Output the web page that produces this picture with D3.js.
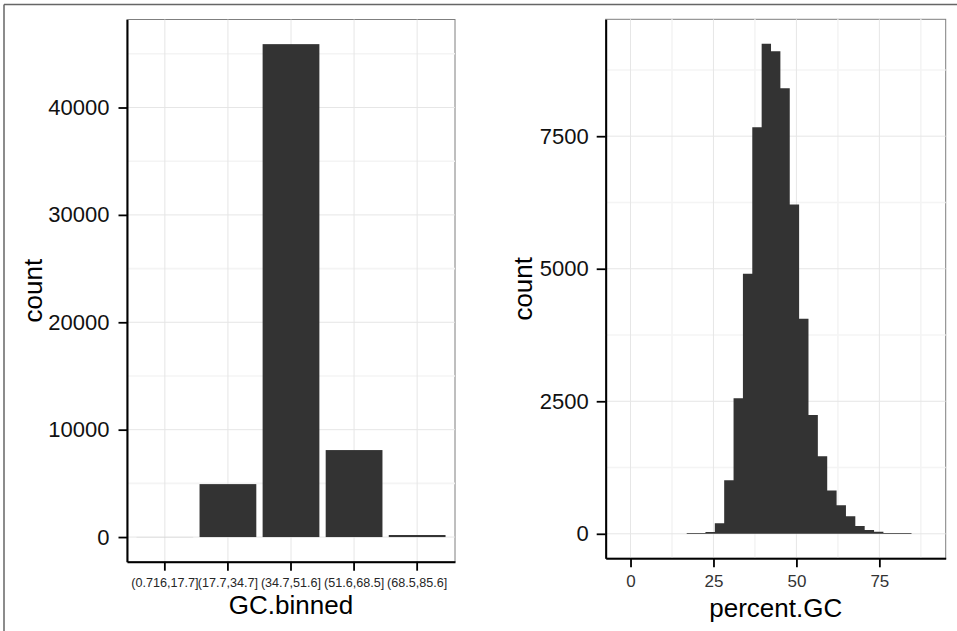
<!DOCTYPE html>
<html>
<head>
<meta charset="utf-8">
<script src="https://cdn.jsdelivr.net/npm/d3@7"></script>
<style>
  html, body { margin: 0; padding: 0; background: #fff; }
  svg { display: block; font-family: "Liberation Sans", Arial, Helvetica, sans-serif; }
</style>
</head>
<body>
<svg id="chart" width="957" height="631"></svg>
<script>
// ---------------- data ----------------
const gcBinnedCategories = ["(0.716,17.7]", "(17.7,34.7]", "(34.7,51.6]", "(51.6,68.5]", "(68.5,85.6]"];
const gcBinnedCounts = [6, 4930, 45900, 8100, 190];
const leftYMajorTicks = [0, 10000, 20000, 30000, 40000];
const leftYMinorTicks = [5000, 15000, 25000, 35000, 45000];

const histBreaks = [-2.823, 0, 2.823, 5.646, 8.469, 11.292, 14.115, 16.938, 19.761, 22.584,
  25.407, 28.23, 31.053, 33.876, 36.699, 39.522, 42.345, 45.168, 47.991, 50.814,
  53.637, 56.46, 59.283, 62.106, 64.929, 67.752, 70.575, 73.398, 76.221, 79.044,
  81.867, 84.69, 87.513, 90.336];
const histCounts = [0, 0, 0, 0, 0, 0, 0, 4, 8, 35,
  200, 1009, 2557, 4904, 7670, 9243, 9104, 8406, 6211, 4055,
  2243, 1462, 815, 538, 330, 146, 70, 40, 15, 5,
  3, 0, 0];
const rightXMajorTicks = [0, 25, 50, 75];
const rightXMinorTicks = [12.5, 37.5, 62.5, 87.5];
const rightYMajorTicks = [0, 2500, 5000, 7500];
const rightYMinorTicks = [1250, 3750, 6250, 8750];

// ---------------- drawing ----------------
const svg = d3.select("#chart");
const BAR = "#333333";
const MAJOR = "#e6e6e6";
const MINOR = "#f4f4f4";

// outer frame (top + left)
svg.append("line").attr("x1", 4).attr("x2", 957).attr("y1", 4.5).attr("y2", 4.5)
  .attr("stroke", "#666").attr("stroke-width", 1.5);
svg.append("line").attr("x1", 4).attr("x2", 4).attr("y1", 4.5).attr("y2", 631)
  .attr("stroke", "#666").attr("stroke-width", 1.5);

function expand(lo, hi) { const d = (hi - lo) * 0.05; return [lo - d, hi + d]; }

function panelFrame(p) {
  svg.append("rect").attr("x", p.x0).attr("y", p.y0)
    .attr("width", p.x1 - p.x0).attr("height", p.y1 - p.y0)
    .attr("fill", "#fff").attr("stroke", "#7f7f7f").attr("stroke-width", 1);
}

function styleAxis(g, fontSize, color) {
  g.select(".domain").attr("stroke", "#000").attr("stroke-width", 2);
  g.selectAll(".tick line").attr("stroke", "#000").attr("stroke-width", 1.8);
  g.selectAll(".tick text").attr("font-size", fontSize).attr("fill", color)
    .attr("font-family", "'Liberation Sans', Arial, sans-serif");
}

// ---------- left panel ----------
{
  const p = { x0: 127, x1: 455, y0: 19.5, y1: 561.7 };
  const x = d3.scaleBand().domain(gcBinnedCategories).range([p.x0, p.x1])
    .paddingInner(0.1).paddingOuter(0.15);
  const y = d3.scaleLinear().domain(expand(0, d3.max(gcBinnedCounts))).range([p.y1, p.y0]);

  panelFrame(p);
  const grid = svg.append("g");
  grid.selectAll(".ymin").data(leftYMinorTicks).join("line")
    .attr("x1", p.x0).attr("x2", p.x1).attr("y1", d => y(d)).attr("y2", d => y(d))
    .attr("stroke", MINOR).attr("stroke-width", 1.6);
  grid.selectAll(".ymaj").data(leftYMajorTicks).join("line")
    .attr("x1", p.x0).attr("x2", p.x1).attr("y1", d => y(d)).attr("y2", d => y(d))
    .attr("stroke", MAJOR).attr("stroke-width", 1);
  grid.selectAll(".xmaj").data(gcBinnedCategories).join("line")
    .attr("x1", d => x(d) + x.bandwidth() / 2).attr("x2", d => x(d) + x.bandwidth() / 2)
    .attr("y1", p.y0).attr("y2", p.y1)
    .attr("stroke", MAJOR).attr("stroke-width", 1);

  svg.append("g").selectAll("rect").data(gcBinnedCategories).join("rect")
    .attr("x", d => x(d)).attr("width", x.bandwidth())
    .attr("y", (d, i) => y(gcBinnedCounts[i]))
    .attr("height", (d, i) => y(0) - y(gcBinnedCounts[i]))
    .attr("fill", BAR);

  const ya = svg.append("g").attr("transform", `translate(${p.x0},0)`)
    .call(d3.axisLeft(y).tickValues(leftYMajorTicks).tickFormat(d3.format("d"))
      .tickSize(8.5).tickSizeOuter(0).tickPadding(9));
  styleAxis(ya, "22px", "#111");
  const xa = svg.append("g").attr("transform", `translate(0,${p.y1})`)
    .call(d3.axisBottom(x).tickSize(9).tickSizeOuter(0).tickPadding(6));
  styleAxis(xa, "12.6px", "#262626");
  xa.selectAll(".tick text").attr("dy", null).attr("y", 25.5);

  svg.append("text").attr("x", (p.x0 + p.x1) / 2).attr("y", 614)
    .attr("text-anchor", "middle").attr("font-size", "26px").attr("fill", "#000")
    .text("GC.binned");
  svg.append("text").attr("transform", `translate(41.5,${(p.y0 + p.y1) / 2}) rotate(-90)`)
    .attr("text-anchor", "middle").attr("font-size", "26px").attr("fill", "#000")
    .text("count");
}

// ---------- right panel ----------
{
  const p = { x0: 605.7, x1: 945.7, y0: 19.3, y1: 558.3 };
  const x = d3.scaleLinear().domain(expand(histBreaks[0], histBreaks[histBreaks.length - 1]))
    .range([p.x0, p.x1]);
  const y = d3.scaleLinear().domain(expand(0, d3.max(histCounts))).range([p.y1, p.y0]);

  panelFrame(p);
  const grid = svg.append("g");
  grid.selectAll(".ymin").data(rightYMinorTicks).join("line")
    .attr("x1", p.x0).attr("x2", p.x1).attr("y1", d => y(d)).attr("y2", d => y(d))
    .attr("stroke", MINOR).attr("stroke-width", 1.6);
  grid.selectAll(".xmin").data(rightXMinorTicks).join("line")
    .attr("x1", d => x(d)).attr("x2", d => x(d)).attr("y1", p.y0).attr("y2", p.y1)
    .attr("stroke", MINOR).attr("stroke-width", 1.6);
  grid.selectAll(".ymaj").data(rightYMajorTicks).join("line")
    .attr("x1", p.x0).attr("x2", p.x1).attr("y1", d => y(d)).attr("y2", d => y(d))
    .attr("stroke", MAJOR).attr("stroke-width", 1);
  grid.selectAll(".xmaj").data(rightXMajorTicks).join("line")
    .attr("x1", d => x(d)).attr("x2", d => x(d)).attr("y1", p.y0).attr("y2", p.y1)
    .attr("stroke", MAJOR).attr("stroke-width", 1);

  // histogram as one seamless step outline built from the bins
  const firstIdx = histCounts.findIndex(c => c > 0);
  let lastIdx = histCounts.length - 1;
  while (lastIdx > 0 && histCounts[lastIdx] === 0) lastIdx--;
  const steps = [];
  for (let i = firstIdx; i <= lastIdx; i++) steps.push({ x: histBreaks[i], c: histCounts[i] });
  steps.push({ x: histBreaks[lastIdx + 1], c: histCounts[lastIdx] });
  const area = d3.area().curve(d3.curveStepAfter)
    .x(d => x(d.x)).y0(y(0)).y1(d => Math.min(y(d.c), y(0) - 0.7));
  svg.append("path").datum(steps).attr("d", area).attr("fill", BAR);

  const ya = svg.append("g").attr("transform", `translate(${p.x0},0)`)
    .call(d3.axisLeft(y).tickValues(rightYMajorTicks).tickFormat(d3.format("d"))
      .tickSize(9).tickSizeOuter(0).tickPadding(8));
  styleAxis(ya, "22px", "#111");
  const xa = svg.append("g").attr("transform", `translate(0,${p.y1})`)
    .call(d3.axisBottom(x).tickValues(rightXMajorTicks).tickFormat(d3.format("d"))
      .tickSize(9).tickSizeOuter(0).tickPadding(6));
  styleAxis(xa, "17px", "#333");
  xa.selectAll(".tick text").attr("dy", null).attr("y", 29);

  svg.append("text").attr("x", (p.x0 + p.x1) / 2).attr("y", 617)
    .attr("text-anchor", "middle").attr("font-size", "26px").attr("fill", "#000")
    .text("percent.GC");
  svg.append("text").attr("transform", `translate(531.5,${(p.y0 + p.y1) / 2}) rotate(-90)`)
    .attr("text-anchor", "middle").attr("font-size", "26px").attr("fill", "#000")
    .text("count");
}
</script>
</body>
</html>
